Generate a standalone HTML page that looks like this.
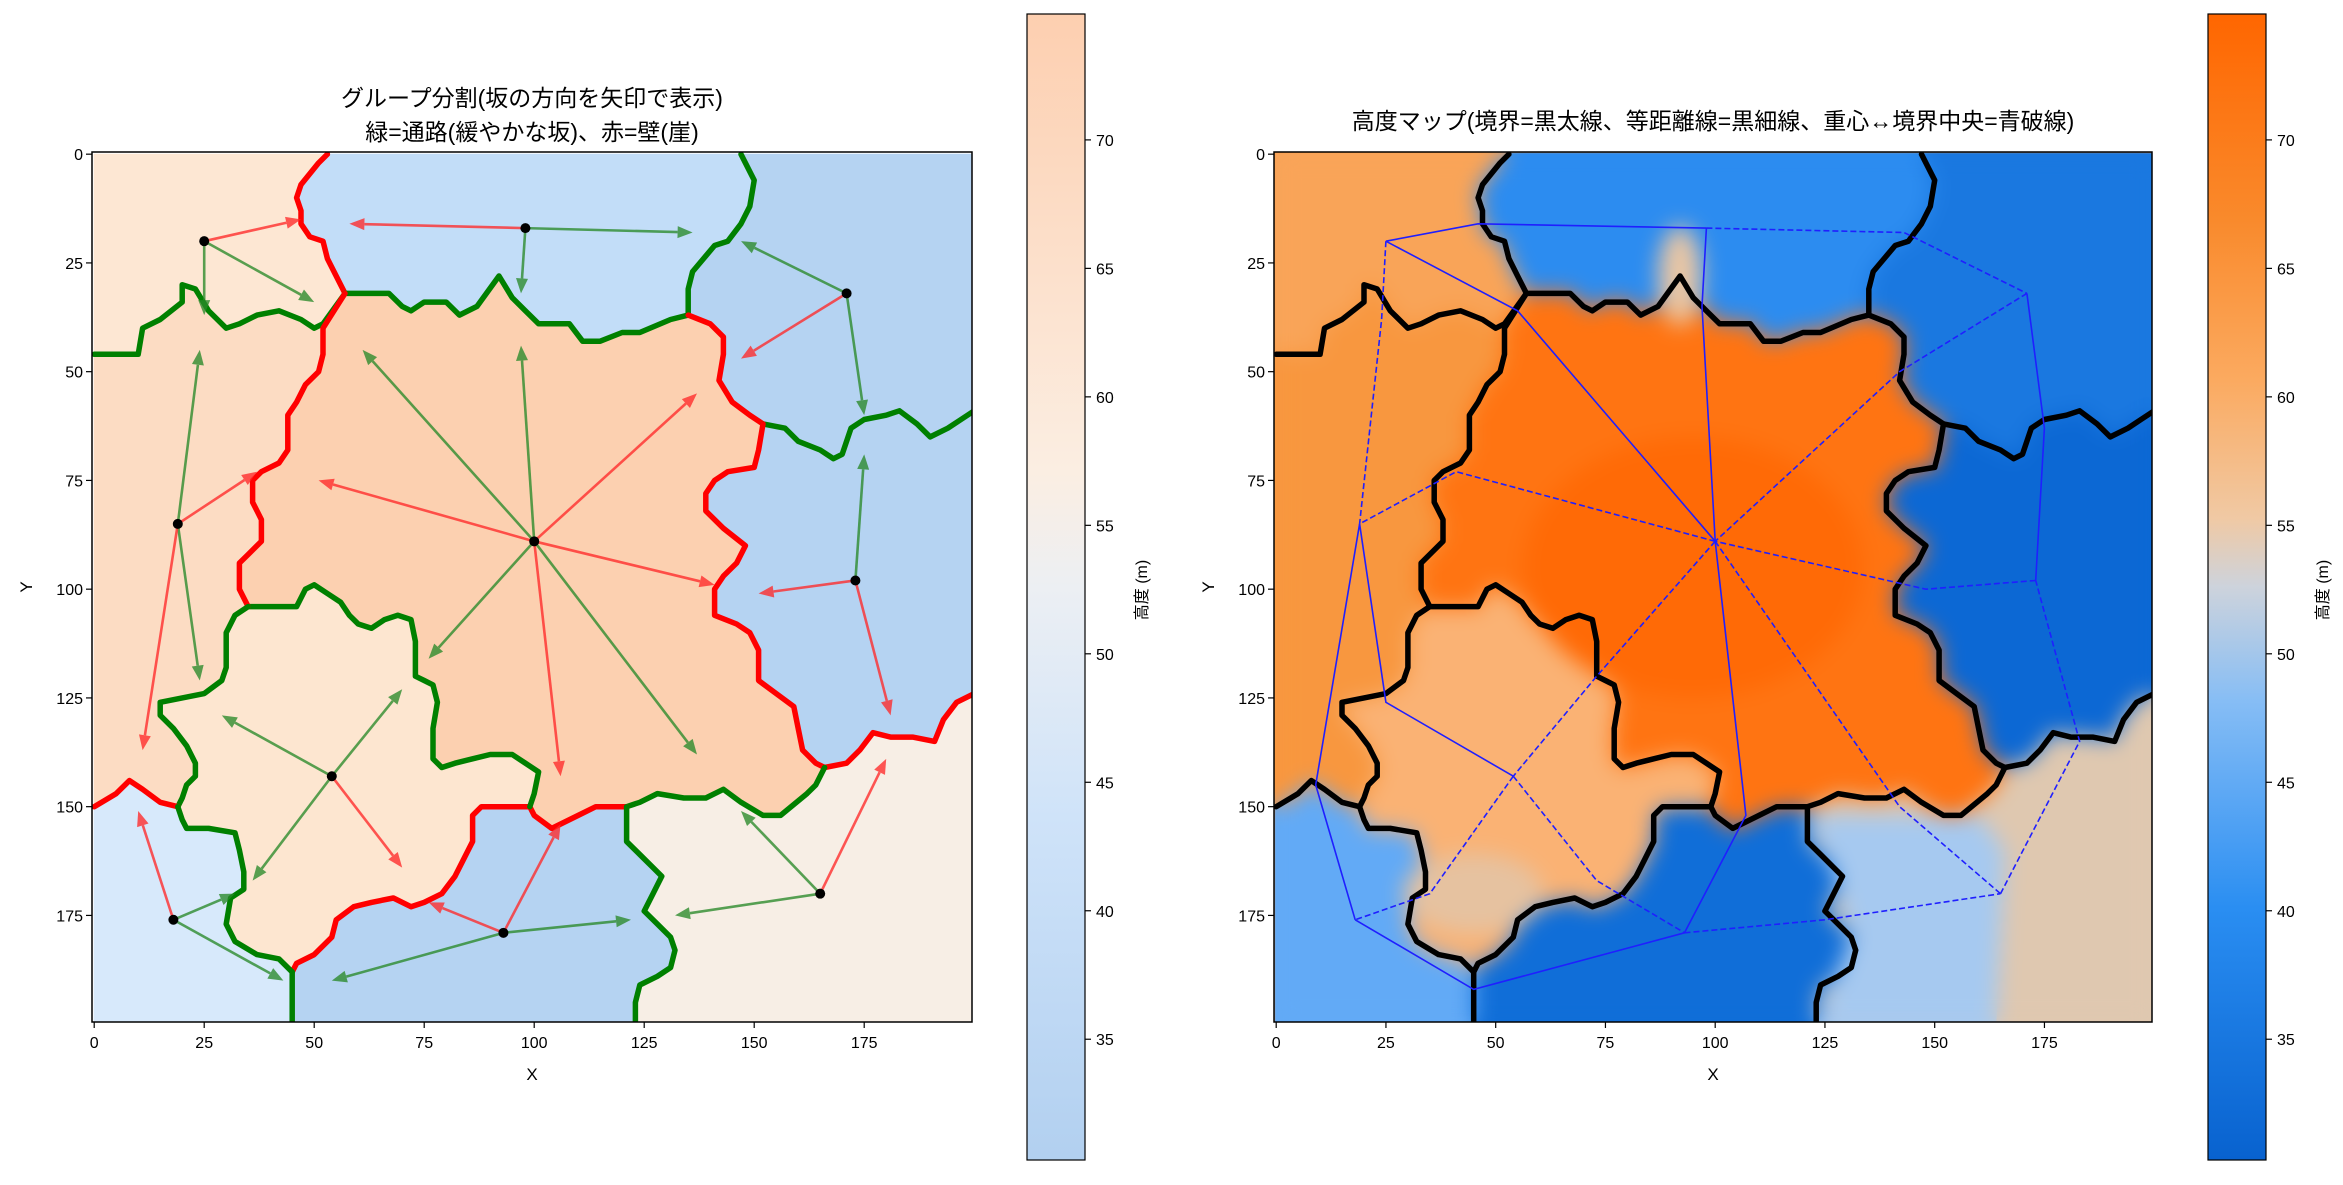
<!DOCTYPE html>
<html><head><meta charset="utf-8">
<style>
html,body{margin:0;padding:0;background:#fff;}
svg{display:block;font-family:"Liberation Sans","Noto Sans CJK JP",sans-serif;}
</style></head>
<body>
<svg id="chart" width="2343" height="1185" viewBox="0 0 2343 1185" xmlns="http://www.w3.org/2000/svg">
<defs>
<linearGradient id="cbL" x1="0" y1="1" x2="0" y2="0">
<stop offset="0" stop-color="#b2d0f0"/><stop offset="0.3" stop-color="#cfe3f9"/><stop offset="0.5" stop-color="#eceff3"/><stop offset="0.6" stop-color="#fbeee2"/><stop offset="1" stop-color="#fdcfb0"/>
</linearGradient>
<linearGradient id="cbR" x1="0" y1="1" x2="0" y2="0">
<stop offset="0" stop-color="#0862cf"/><stop offset="0.22" stop-color="#2a8ef2"/><stop offset="0.4" stop-color="#86bdf5"/><stop offset="0.5" stop-color="#cdd3dc"/><stop offset="0.56" stop-color="#f0c9a4"/><stop offset="0.68" stop-color="#fbaa60"/><stop offset="0.82" stop-color="#f98a2c"/><stop offset="1" stop-color="#ff6600"/>
</linearGradient>
<clipPath id="clipR"><rect x="1274" y="152" width="878" height="870"/></clipPath>
<clipPath id="clipL"><rect x="92" y="152" width="880" height="870"/></clipPath>
<filter id="blur" x="-10%" y="-10%" width="120%" height="120%" color-interpolation-filters="sRGB"><feGaussianBlur stdDeviation="11"/></filter>
</defs>
<g id="left"></g>
<g id="right"></g>
</svg>
<script>
const NS='http://www.w3.org/2000/svg';
// ---- data ----
const xTicks=[0,25,50,75,100,125,150,175];
const yTicks=[0,25,50,75,100,125,150,175];
const cbTicks=[35,40,45,50,55,60,65,70];
const cbMin=30.3, cbMax=74.9;
const centroids=[[25,20],[98,17],[171,32],[100,89],[19,85],[173,98],[54,143],[93,179],[18,176],[165,170]];
const arrowFrom=[0,0,0,1,1,1,2,2,2,3,3,3,3,3,3,3,3,4,4,4,4,5,5,5,6,6,6,6,7,7,7,7,8,8,8,9,9,9];
const arrowTo=[[47,15],[50,34],[25,37],[58,16],[136,18],[97,32],[147,20],[147,47],[175,60],
[61,45],[97,44],[137,55],[51,75],[141,99],[76,116],[106,143],[137,138],
[24,45],[37,73],[24,121],[11,137],[175,69],[151,101],[181,129],
[70,123],[29,129],[70,164],[36,167],[76,172],[106,154],[122,176],[54,190],
[10,151],[32,170],[43,190],[147,151],[180,139],[132,175]];
const arrowKind=['r','g','g','r','g','g','g','r','g','g','g','r','r','r','g','r','g','g','r','g','r','g','r','r','g','g','r','g','r','r','g','g','r','g','g','g','r','g'];
const S={
S1:[[53,0],[51,2],[47,7],[46,10],[47,13],[47,16],[49,19],[52,20],[53,24],[55,28],[57,32]],
S2:[[0,46],[10,46],[11,40],[15,38],[20,34],[20,30],[23,31],[26,36],[30,40],[33,39],[37,37],[42,36],[47,38],[50,40],[52,39],[57,32]],
S3:[[57,32],[67,32],[70,35],[72,36],[75,34],[80,34],[83,37],[87,35],[92,28],[95,33],[98,36],[101,39],[108,39],[111,43],[115,43],[120,41],[124,41],[131,38],[135,37]],
S4:[[147,0],[150,6],[149,12],[147,16],[144,20],[141,21],[136,27],[135,31],[135,37]],
S5:[[135,37],[140,39],[143,42],[143,46],[142,52],[145,57],[149,60],[152,62]],
S6:[[152,62],[157,63],[160,66],[165,68],[168,70],[170,69],[172,63],[175,61],[180,60],[183,59],[187,62],[190,65],[194,63],[197,61],[200,59]],
S7:[[152,62],[151,68],[150,72],[144,73],[141,75],[139,78],[139,82],[143,86],[148,90],[146,94],[143,97],[141,100],[141,106],[146,108],[149,110],[151,114],[151,121],[155,124],[159,127],[160,132],[161,137],[164,140],[166,141]],
S8:[[166,141],[171,140],[174,137],[177,133],[181,134],[186,134],[191,135],[193,130],[196,126],[200,124]],
S9:[[166,141],[164,145],[162,147],[156,152],[152,152],[147,149],[143,146],[139,148],[134,148],[128,147],[124,149],[121,150]],
S10:[[121,150],[114,150],[110,152],[104,155],[100,152],[99,150]],
S11:[[99,150],[88,150],[86,152],[86,158],[84,162],[82,166],[79,170],[75,172],[72,173],[68,171],[63,172],[59,173],[55,176],[54,180],[50,184],[46,186],[45,188]],
S12:[[99,150],[100,147],[101,142],[98,140],[95,138],[90,138],[86,139],[82,140],[79,141],[77,139],[77,132],[78,126],[77,122],[75,121],[73,120],[73,112],[72,107],[69,106],[66,107],[63,109],[60,108],[58,106],[56,103],[53,101],[50,99],[48,100],[46,104],[41,104],[35,104]],
S13:[[57,32],[52,40],[52,46],[51,50],[48,53],[46,57],[44,60],[44,68],[42,71],[38,73],[36,75],[36,80],[38,84],[38,89],[35,92],[33,94],[33,100],[35,104]],
S14:[[35,104],[32,106],[30,110],[30,118],[29,121],[25,124],[20,125],[15,126],[15,129],[18,132],[21,136],[23,140],[23,143],[21,145],[20,148],[19,150]],
S15:[[0,150],[5,147],[8,144],[11,146],[15,149],[19,150]],
S16a:[[19,150],[20,153],[21,155],[26,155],[32,156],[33,160],[34,165],[34,169],[31,171],[30,177],[32,181],[37,184],[42,185],[45,188]],
S16b:[[45,188],[45,200]],
S17:[[121,150],[121,158],[124,161],[127,164],[129,166],[127,170],[125,174],[128,177],[131,180],[132,183],[131,187],[128,189],[124,191],[123,195],[123,200]]
};
const segColor={S1:'r',S2:'g',S3:'g',S4:'g',S5:'r',S6:'g',S7:'r',S8:'r',S9:'g',S10:'r',S11:'r',S12:'g',S13:'r',S14:'g',S15:'r',S16a:'g',S16b:'g',S17:'g'};
const rev=a=>a.slice().reverse();
const regions={
R1:[[[0,0]],S.S1,rev(S.S2)],
R2:[S.S1,S.S3,rev(S.S4)],
R3:[S.S4,S.S5,S.S6,[[200,0]]],
R10:[S.S6,[[200,124]],rev(S.S8),rev(S.S7)],
R9:[S.S8,[[200,200],[123,200]],rev(S.S17),rev(S.S9)],
R7:[S.S17,[[45,200]],rev(S.S11),rev(S.S10)],
R8:[S.S15,S.S16a,S.S16b,[[0,200]]],
R6:[S.S14,S.S16a,rev(S.S11),S.S12],
R5:[S.S2,S.S13,S.S14,rev(S.S15)],
R4:[S.S3,S.S5,S.S7,S.S9,S.S10,S.S12,rev(S.S13)]
};
const colL={R1:'#fde7d3',R2:'#c2ddf8',R3:'#b5d3f2',R10:'#b5d3f2',R9:'#f7eee5',R7:'#b5d3f2',R8:'#d7e9fb',R6:'#fde6d0',R5:'#fcdcc3',R4:'#fcd0b0'};
const colR={R1:'#f9a458',R2:'#2c8cf0',R3:'#1a78e0',R10:'#0c68d4',R9:'#dfc8b0',R7:'#106ed8',R8:'#62aaf6',R6:'#fab274',R5:'#f8973f',R4:'#ff7412'};
const edges=[[0,[46,16],1,'s'],[1,[143,18],2,'d'],[2,[175,63],5,'s'],[5,[148,100],3,'d'],[2,[142,50],3,'d'],[3,[41,73],4,'d'],[0,[24,38],4,'d'],[0,[55,36],3,'s'],[1,[97,35],3,'s'],[3,[107,152],7,'s'],[3,[73,120],6,'d'],[3,[142,150],9,'d'],[4,[25,126],6,'s'],[4,[9,145],8,'s'],[6,[35,170],8,'d'],[6,[73,167],7,'d'],[8,[45,192],7,'s'],[7,[125,176],9,'d'],[9,[183,135],5,'d']];

// ---- helpers ----
function el(tag,attrs,parent,text){const e=document.createElementNS(NS,tag);for(const k in attrs)e.setAttribute(k,attrs[k]);if(text!==undefined)e.textContent=text;parent.appendChild(e);return e;}
function mk(ox){const x0=ox,w=ox>1000?878:880;return{x:v=>x0+(v+0.5)*(w/200),y:v=>152+(v+0.5)*4.35,x0:x0,w:w};}
const L=mk(92),R=mk(1274);
function pts(ax,arr){return arr.map(p=>ax.x(p[0]).toFixed(1)+','+ax.y(p[1]).toFixed(1)).join(' ');}
function regionPts(ax,parts){const a=[];parts.forEach(p=>p.forEach(q=>a.push(q)));return pts(ax,a);}

function axes(g,ax,cbx,grad,title){
  const gt=el('g',{},g);
  
  title.forEach((t,i)=>{el('text',{x:ax.x0+ax.w/2,y:title.length>1?(106+i*34):129,'text-anchor':'middle','font-size':'23',fill:'#000'},gt,t);});
  el('rect',{x:ax.x0,y:152,width:ax.w,height:870,fill:'none',stroke:'#000','stroke-width':1.5},g);
  const xt=el('g',{},g);
  xTicks.forEach(t=>{const px=ax.x(t);el('line',{x1:px,y1:1022,x2:px,y2:1028,stroke:'#000','stroke-width':1.2},xt);el('text',{x:px,y:1048,'text-anchor':'middle','font-size':'16'},xt,String(t));});
  const yt=el('g',{},g);
  yTicks.forEach(t=>{const py=ax.y(t);el('line',{x1:ax.x0-6,y1:py,x2:ax.x0,y2:py,stroke:'#000','stroke-width':1.2},yt);el('text',{x:ax.x0-9,y:py+6,'text-anchor':'end','font-size':'16'},yt,String(t));});
  const xl=el('text',{x:ax.x0+ax.w/2,y:1080,'text-anchor':'middle','font-size':'17'},g,'X');
  const yl=el('text',{x:0,y:0,'text-anchor':'middle','font-size':'17',transform:`translate(${ax.x0-60},587) rotate(-90)`},g,'Y');
  const cb=el('g',{},g);
  el('rect',{x:cbx,y:14,width:58,height:1146,fill:`url(#${grad})`,stroke:'#000','stroke-width':1.2},cb);
  const cy=v=>1160-(v-cbMin)/(cbMax-cbMin)*1146;
  cbTicks.forEach(t=>{el('line',{x1:cbx+58,y1:cy(t),x2:cbx+64,y2:cy(t),stroke:'#000','stroke-width':1.2},cb);el('text',{x:cbx+69,y:cy(t)+6,'font-size':'16'},cb,String(t));});
  const cl=el('text',{x:0,y:0,'text-anchor':'middle','font-size':'16',transform:`translate(${cbx+120},590) rotate(-90)`},cb,'高度 (m)');
  
}

// ---- left panel ----
const gl=document.getElementById('left');
const regL=el('g',{'clip-path':'url(#clipL)'},gl);
for(const k in regions){const p=el('polygon',{points:regionPts(L,regions[k]),fill:colL[k],stroke:colL[k],'stroke-width':1},regL);
}
const bl=el('g',{'clip-path':'url(#clipL)'},gl);
for(const k in S){const c=segColor[k]==='r'?'#ff0000':'#008000';const p=el('polyline',{points:pts(L,S[k]),fill:'none',stroke:c,'stroke-width':5.5,'stroke-linejoin':'round','stroke-linecap':'round'},bl);
}
const ag=el('g',{},gl);
arrowTo.forEach((t,i)=>{
  const f=centroids[arrowFrom[i]];const x1=L.x(f[0]),y1=L.y(f[1]),x2=L.x(t[0]),y2=L.y(t[1]);
  const c=arrowKind[i]==='r'?'#ff2a2a':'#2a8a2a';
  const dx=x2-x1,dy=y2-y1,len=Math.hypot(dx,dy),ux=dx/len,uy=dy/len,hl=15,hw=6;
  const g=el('g',{opacity:0.78},ag);
  
  el('line',{x1:x1,y1:y1,x2:x2-ux*hl,y2:y2-uy*hl,stroke:c,'stroke-width':2.6},g);
  el('polygon',{points:`${x2},${y2} ${x2-ux*hl-uy*hw},${y2-uy*hl+ux*hw} ${x2-ux*hl+uy*hw},${y2-uy*hl-ux*hw}`,fill:c},g);
});
centroids.forEach(c=>{const d=el('circle',{cx:L.x(c[0]),cy:L.y(c[1]),r:5,fill:'#000'},ag);
});
axes(gl,L,1027,'cbL',['グループ分割(坂の方向を矢印で表示)','緑=通路(緩やかな坂)、赤=壁(崖)']);

// ---- right panel ----
const gr=document.getElementById('right');
const hm=el('g',{'clip-path':'url(#clipR)'},gr);

el('rect',{x:1274,y:152,width:878,height:870,fill:'#f8a050'},hm);
function paint(gp){
  for(const k in regions){el('polygon',{points:regionPts(R,regions[k]),fill:colR[k],stroke:colR[k],'stroke-width':2},gp);}
  el('polygon',{points:pts(R,[[121,152],[160,152],[166,160],[164,200],[123,200],[131,180],[127,165]]),fill:'#a6c9f0'},gp);
  el('ellipse',{cx:R.x(95),cy:R.y(95),rx:170,ry:130,fill:'#ff6a06'},gp);
  el('ellipse',{cx:R.x(45),cy:R.y(170),rx:70,ry:40,fill:'#e6c2a0'},gp);
  el('ellipse',{cx:R.x(92),cy:R.y(28),rx:22,ry:50,fill:'#e9c6a4'},gp);
}
paint(el('g',{},hm));
paint(el('g',{filter:'url(#blur)'},hm));
const br=el('g',{'clip-path':'url(#clipR)'},gr);
for(const k in S){const p=el('polyline',{points:pts(R,S[k]),fill:'none',stroke:'#000','stroke-width':5.5,'stroke-linejoin':'round','stroke-linecap':'round'},br);
}
const ng=el('g',{},gr);
edges.forEach(e=>{const a=centroids[e[0]],m=e[1],b=centroids[e[2]];
  const p=el('polyline',{points:pts(R,[a,m,b]),fill:'none',stroke:'#1f1fff','stroke-width':1.6,'stroke-dasharray':e[3]==='d'?'6,3':'none'},ng);
  });
axes(gr,R,2208,'cbR',['高度マップ(境界=黒太線、等距離線=黒細線、重心↔境界中央=青破線)']);
</script>
</body></html>
